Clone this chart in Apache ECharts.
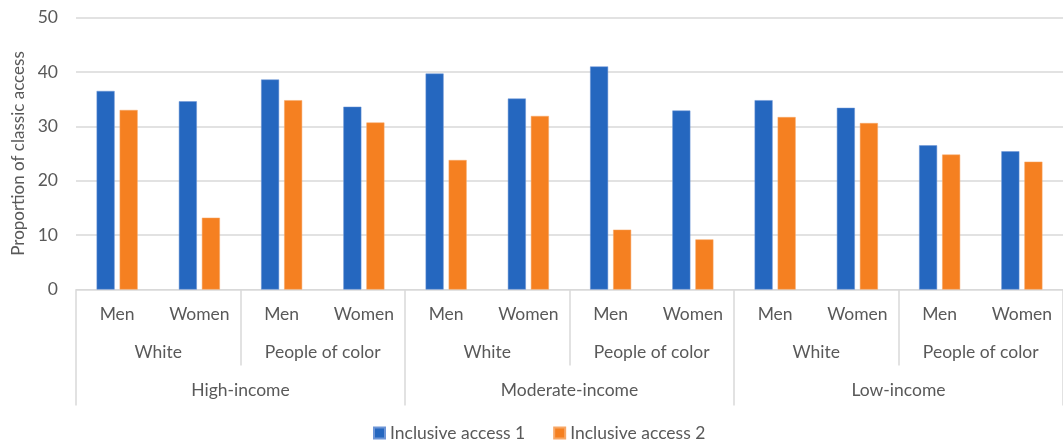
<!DOCTYPE html>
<html>
<head>
<meta charset="utf-8">
<script src="https://cdn.jsdelivr.net/npm/echarts@6/dist/echarts.min.js"></script>
<style>html,body{margin:0;padding:0;background:#fff;}#c{width:1063px;height:443px;}</style>
</head>
<body>
<div id="c"></div>
<script>
const genders = ['Men','Women','Men','Women','Men','Women','Men','Women','Men','Women','Men','Women'];
const races = ['White','People of color','White','People of color','White','People of color'];
const incomes = ['High-income','Moderate-income','Low-income'];
const seriesNames = ['Inclusive access 1','Inclusive access 2'];
const access1 = [36.5, 34.6, 38.6, 33.6, 39.7, 35.1, 41.0, 32.9, 34.8, 33.4, 26.5, 25.4];
const access2 = [33.0, 13.2, 34.8, 30.7, 23.8, 31.9, 11.0, 9.2, 31.7, 30.6, 24.8, 23.5];
const yTicks = {min: 0, max: 50, interval: 10};

const font = 'Lato, "Open Sans", sans-serif';
const txt = '#595959';
const line = '#d9d9d9';
const fs = 17.5;

const chart = echarts.init(document.getElementById('c'), null, {renderer: 'canvas'});
chart.setOption({
  animation: false,
  textStyle: {fontFamily: font},
  grid: {left: 76, width: 991, top: 17.5, bottom: 153.5, containLabel: false},
  legend: {
    data: seriesNames, top: 419, left: 368, icon: 'rect', itemWidth: 11, itemHeight: 11, itemGap: 28,
    textStyle: {color: txt, fontSize: fs, fontFamily: font}
  },
  xAxis: [
    {type: 'category', data: genders, position: 'bottom',
     axisLine: {lineStyle: {color: line, width: 1}}, axisTick: {show: false},
     axisLabel: {color: txt, fontSize: fs, margin: 16, interval: 0, fontFamily: font}, splitLine: {show: false}},
    {type: 'category', data: races, position: 'bottom', gridIndex: 0,
     axisLine: {show: false}, axisTick: {show: true, length: 76, interval: 0, lineStyle: {color: line, width: 1.5}},
     axisLabel: {color: txt, fontSize: fs, margin: 54, interval: 0, fontFamily: font}, splitLine: {show: false}},
    {type: 'category', data: incomes, position: 'bottom', gridIndex: 0,
     axisLine: {show: false}, axisTick: {show: true, length: 116, interval: 0, lineStyle: {color: line, width: 1.5}},
     axisLabel: {color: txt, fontSize: fs, margin: 92, interval: 0, fontFamily: font}, splitLine: {show: false}}
  ],
  yAxis: {
    type: 'value', min: yTicks.min, max: yTicks.max, interval: yTicks.interval,
    name: 'Proportion of classic access', nameLocation: 'middle', nameGap: 47, nameRotate: 90,
    nameTextStyle: {color: txt, fontSize: 17, fontFamily: font},
    axisLine: {show: false}, axisTick: {show: false},
    axisLabel: {color: txt, fontSize: fs, margin: 18, fontFamily: font},
    splitLine: {lineStyle: {color: line, width: 1.5}}
  },
  series: [
    {name: seriesNames[0], type: 'bar', data: access1, xAxisIndex: 0, barWidth: 18, barGap: '28%',
     itemStyle: {color: '#2567BF', borderColor: '#6d95d6', borderWidth: 0.5}},
    {name: seriesNames[1], type: 'bar', data: access2, xAxisIndex: 0, barWidth: 18, barGap: '28%',
     itemStyle: {color: '#F58021', borderColor: '#f7a766', borderWidth: 0.5}}
  ]
});
</script>
</body>
</html>
